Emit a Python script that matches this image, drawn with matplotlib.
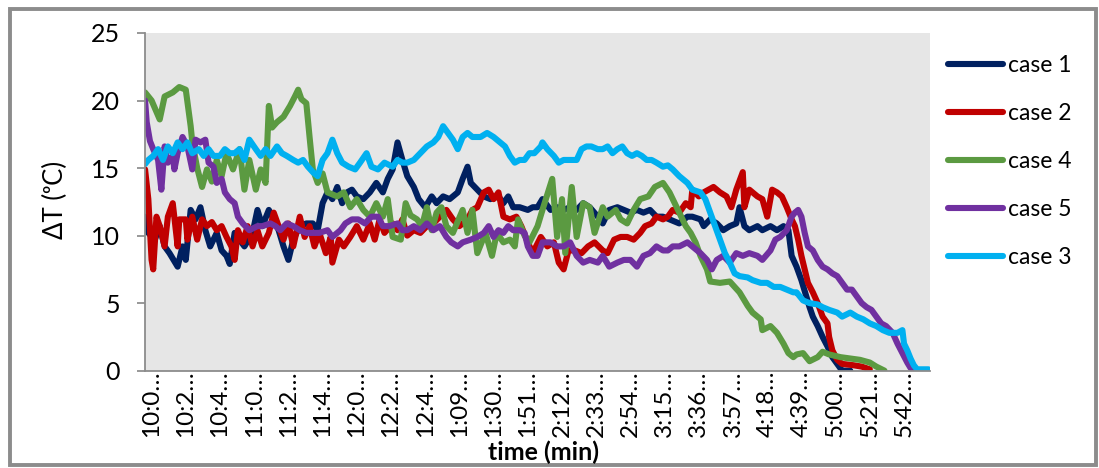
import numpy as np
import matplotlib
matplotlib.use("Agg")
import matplotlib.pyplot as plt
from matplotlib.patches import Rectangle

plt.rcParams['font.family'] = ['Lato', 'DejaVu Sans']

# minute index along the run, and temperature difference readings
case1_t = [0, 2, 6, 9, 12, 15, 20, 23, 25, 28,
           31, 34, 37, 40, 44, 47, 50, 52, 55, 58,
           61, 66, 69, 72, 76, 79, 82, 85, 88, 91,
           95, 99, 103, 106, 109, 112, 115, 118, 121, 124,
           127, 130, 134, 138, 142, 146, 149, 152, 155, 158,
           161, 165, 168, 172, 176, 179, 183, 187, 192, 195,
           198, 200, 204, 208, 212, 217, 220, 223, 226, 230,
           235, 238, 241, 244, 249, 253, 257, 261, 265, 269,
           273, 278, 281, 285, 290, 294, 298, 302, 306, 310,
           314, 318, 322, 328, 333, 336, 341, 343, 347, 351,
           355, 359, 363, 365, 368, 371, 376, 379, 384, 388,
           392, 395, 397, 400, 403, 406, 408, 410, 413, 416,
           419, 422, 425, 428, 433]
case1_v = [11.4, 10.2, 9.7, 10.7, 9.2, 8.7, 7.7, 9.2, 8.2, 11.9,
           11.2, 12.1, 10.4, 9.2, 10.2, 8.9, 8.5, 7.9, 10.2, 9.7,
           9.2, 10.2, 11.9, 10.7, 11.9, 11.2, 10.4, 9.2, 8.2, 9.7,
           10.7, 10.9, 10.9, 10.4, 12.4, 13.2, 12.7, 13.6, 12.4, 13.2,
           13.4, 12.9, 12.7, 13.2, 13.9, 13.2, 14.2, 14.9, 16.9, 15.6,
           14.4, 13.6, 12.7, 12.1, 12.9, 12.4, 12.9, 12.7, 13.2, 14.2,
           15.1, 13.9, 13.4, 12.9, 12.7, 12.9, 12.4, 12.9, 12.1, 12.1,
           11.9, 12.1, 12.1, 12.7, 11.9, 12.1, 11.9, 12.1, 11.9, 12.4,
           12.1, 11.4, 10.9, 11.9, 12.1, 11.9, 11.7, 11.9, 11.7, 11.9,
           11.4, 11.4, 11.2, 10.9, 11.4, 11.4, 11.2, 10.7, 11.2, 10.9,
           10.4, 10.7, 10.9, 12.1, 10.7, 10.4, 10.7, 10.4, 10.7, 10.4,
           10.7, 10.4, 8.5, 7.7, 6.7, 5.5, 4.7, 4.0, 3.3, 2.5,
           1.8, 1.0, 0.5, 0.0, 0.0]

case2_t = [0, 2, 4, 5, 7, 9, 12, 14, 17, 20,
           21, 25, 26, 29, 32, 35, 38, 41, 44, 47,
           50, 53, 55, 57, 60, 63, 66, 69, 72, 76,
           79, 82, 85, 88, 91, 95, 98, 101, 104, 107,
           111, 114, 115, 119, 122, 126, 130, 134, 138, 141,
           144, 147, 152, 155, 158, 161, 165, 169, 173, 177,
           181, 185, 189, 193, 198, 201, 204, 208, 211, 214,
           217, 220, 224, 228, 231, 235, 238, 243, 247, 251,
           254, 257, 260, 264, 268, 272, 276, 281, 284, 288,
           292, 296, 300, 304, 307, 311, 314, 318, 321, 324,
           328, 332, 335, 336, 340, 343, 346, 349, 353, 357,
           360, 363, 367, 368, 371, 376, 379, 382, 385, 388,
           391, 394, 397, 399, 401, 403, 405, 407, 410, 413,
           416, 419, 420, 422, 425, 428, 435, 440, 445]
case2_v = [14.9, 12.7, 8.2, 7.5, 11.4, 10.7, 9.2, 11.4, 12.4, 9.2,
           11.2, 11.2, 9.7, 11.4, 9.7, 11.2, 10.7, 11.0, 10.4, 10.7,
           9.9, 9.2, 8.2, 10.4, 9.5, 10.7, 9.2, 10.4, 9.2, 10.2,
           11.7, 10.7, 9.7, 10.9, 9.2, 11.4, 9.9, 10.7, 9.2, 10.2,
           8.7, 9.9, 8.0, 9.7, 9.2, 9.9, 10.7, 9.7, 10.9, 9.7,
           11.2, 10.2, 10.9, 10.4, 11.2, 10.0, 10.4, 10.2, 10.7, 10.9,
           11.4, 11.9, 11.2, 10.7, 11.2, 11.9, 12.1, 13.2, 13.4, 12.7,
           13.2, 11.4, 11.2, 11.4, 10.7, 9.5, 8.7, 9.9, 9.2, 9.5,
           8.0, 7.5, 8.9, 8.9, 8.7, 9.2, 9.5, 8.9, 8.7, 9.7,
           9.9, 9.9, 9.7, 10.2, 10.7, 10.9, 11.4, 11.2, 11.4, 11.9,
           11.7, 12.4, 12.1, 13.4, 12.9, 13.2, 13.4, 13.6, 13.2, 12.9,
           12.1, 13.4, 14.7, 12.1, 13.4, 12.9, 12.7, 11.4, 13.4, 13.2,
           12.9, 12.1, 11.2, 10.7, 9.7, 8.5, 7.5, 6.5, 5.8, 5.0,
           4.0, 3.5, 2.5, 1.5, 0.8, 0.5, 0.4, 0.3, 0.1]

case4_t = [0, 4, 9, 12, 17, 21, 25, 28, 29, 32,
           35, 38, 41, 44, 47, 50, 54, 58, 61, 64,
           68, 71, 74, 76, 78, 81, 85, 89, 92, 94,
           96, 99, 101, 103, 106, 109, 112, 118, 122, 126,
           130, 134, 138, 142, 146, 149, 152, 157, 160, 163,
           167, 170, 173, 176, 179, 182, 185, 189, 195, 198,
           201, 204, 209, 213, 216, 220, 224, 227, 229, 233,
           236, 241, 244, 250, 253, 256, 258, 262, 265, 269,
           273, 276, 281, 284, 289, 292, 296, 300, 304, 309,
           313, 318, 322, 328, 332, 335, 338, 341, 345, 347,
           353, 359, 365, 370, 373, 378, 379, 384, 388, 392,
           395, 398, 400, 404, 408, 413, 416, 420, 427, 433,
           439, 445, 449, 454]
case4_v = [20.6, 20.0, 18.6, 20.3, 20.6, 21.0, 20.8, 18.1, 16.9, 15.0,
           13.6, 14.9, 14.0, 15.6, 14.4, 16.1, 14.9, 16.4, 13.4, 15.6,
           13.4, 14.9, 13.9, 19.6, 18.0, 18.4, 18.8, 19.6, 20.3, 20.8,
           20.1, 19.8, 17.3, 14.9, 13.9, 14.6, 13.2, 12.9, 13.2, 12.1,
           12.7, 11.9, 11.4, 12.4, 11.4, 12.7, 9.9, 9.7, 12.4, 11.5,
           11.2, 10.7, 12.1, 10.4, 11.7, 12.1, 10.7, 10.2, 11.9, 10.2,
           11.9, 8.7, 10.2, 8.5, 10.2, 9.5, 9.7, 9.2, 11.2, 10.0,
           9.5, 10.7, 11.9, 14.2, 9.9, 12.7, 8.7, 13.6, 9.9, 12.4,
           12.1, 10.2, 12.1, 11.4, 11.9, 11.2, 10.9, 11.9, 12.7, 12.9,
           13.6, 13.9, 13.2, 11.7, 10.7, 10.2, 9.5, 8.5, 7.5, 6.6,
           6.5, 6.6, 5.8, 4.8, 4.3, 3.8, 3.0, 3.3, 2.8, 2.0,
           1.3, 1.0, 1.2, 1.3, 0.7, 1.0, 1.4, 1.2, 1.0, 0.9,
           0.8, 0.6, 0.3, 0.0]

case5_t = [0, 1, 3, 5, 8, 10, 12, 14, 17, 18,
           20, 23, 26, 29, 31, 34, 37, 39, 42, 44,
           47, 49, 52, 55, 57, 60, 64, 69, 72, 77,
           80, 83, 87, 91, 95, 99, 103, 107, 112, 115,
           120, 123, 127, 131, 135, 139, 143, 146, 150, 155,
           158, 161, 165, 169, 173, 177, 181, 185, 188, 192,
           195, 200, 204, 208, 211, 214, 217, 220, 223, 226,
           230, 233, 235, 238, 241, 244, 249, 253, 257, 261,
           265, 269, 273, 278, 281, 285, 290, 294, 298, 302,
           306, 310, 314, 318, 321, 324, 328, 333, 336, 341,
           345, 348, 351, 355, 359, 363, 367, 371, 376, 379,
           384, 387, 390, 394, 397, 399, 401, 403, 405, 407,
           410, 413, 416, 419, 422, 425, 428, 431, 434, 437,
           440, 443, 446, 449, 452, 455, 459, 462, 465, 468,
           470, 476]
case5_v = [20.0, 18.4, 17.0, 16.4, 15.6, 13.4, 16.6, 15.4, 15.9, 14.9,
           16.1, 17.3, 16.6, 14.9, 17.1, 16.9, 17.1, 15.4, 15.1, 13.9,
           14.2, 13.2, 12.7, 12.4, 11.4, 10.9, 10.4, 10.7, 10.7, 10.9,
           10.7, 10.4, 10.9, 10.7, 10.4, 10.2, 10.2, 10.2, 10.4, 9.9,
           10.4, 10.9, 11.2, 11.2, 10.9, 11.4, 11.4, 10.7, 10.7, 10.9,
           10.4, 10.4, 10.7, 10.4, 10.9, 10.4, 10.7, 9.9, 9.5, 9.2,
           9.5, 9.7, 9.9, 10.2, 10.7, 9.9, 10.4, 10.2, 10.7, 10.4,
           10.4, 10.2, 9.2, 8.5, 8.5, 9.5, 9.5, 9.2, 9.2, 9.5,
           8.5, 8.0, 8.2, 8.0, 8.5, 7.7, 8.0, 8.2, 8.2, 7.7,
           8.5, 8.7, 9.2, 8.9, 8.9, 9.2, 9.2, 9.5, 9.2, 8.7,
           8.2, 7.5, 8.2, 8.5, 8.0, 8.7, 8.5, 8.7, 8.5, 8.2,
           8.9, 9.7, 9.9, 10.4, 11.4, 11.7, 11.9, 11.4, 10.2, 9.2,
           8.9, 8.2, 7.7, 7.5, 7.2, 7.0, 6.5, 6.0, 6.0, 5.5,
           5.0, 4.7, 4.5, 4.0, 3.5, 3.3, 2.8, 2.0, 1.3, 0.6,
           0.2, 0.0]

case3_t = [0, 2, 5, 8, 11, 14, 17, 20, 23, 26,
           29, 33, 36, 39, 42, 46, 49, 52, 55, 58,
           61, 64, 68, 71, 74, 77, 81, 84, 87, 91,
           94, 97, 100, 103, 106, 109, 112, 115, 118, 121,
           125, 129, 132, 136, 139, 143, 147, 152, 155, 158,
           161, 165, 169, 173, 177, 180, 183, 186, 189, 192,
           195, 198, 201, 206, 210, 214, 218, 221, 224, 227,
           230, 233, 236, 239, 243, 244, 247, 251, 254, 257,
           261, 265, 268, 271, 274, 278, 281, 284, 287, 290,
           293, 296, 299, 302, 305, 308, 311, 314, 318, 321,
           324, 328, 333, 336, 341, 344, 347, 350, 353, 356,
           359, 362, 365, 370, 373, 378, 382, 386, 390, 394,
           398, 400, 404, 408, 413, 416, 420, 425, 428, 433,
           437, 441, 445, 449, 453, 457, 462, 465, 466, 468,
           470, 472, 474, 481]
case3_v = [15.3, 15.6, 15.9, 16.4, 15.6, 16.6, 16.1, 16.9, 16.4, 16.9,
           16.1, 16.4, 15.9, 16.4, 15.9, 15.9, 16.4, 16.1, 16.1, 16.4,
           15.6, 17.1, 16.4, 15.9, 16.4, 15.9, 16.6, 16.1, 15.9, 15.6,
           15.4, 15.6, 15.1, 14.7, 14.4, 15.6, 16.1, 17.1, 16.1, 15.4,
           15.1, 14.9, 15.4, 16.1, 15.1, 14.9, 15.4, 15.1, 15.6, 15.4,
           15.4, 15.6, 16.1, 16.6, 16.9, 17.3, 18.1, 17.6, 17.1, 16.4,
           17.3, 17.6, 17.3, 17.3, 17.6, 17.3, 16.9, 16.6, 15.9, 15.4,
           15.6, 15.6, 16.1, 16.1, 16.6, 16.9, 16.4, 15.9, 15.4, 15.6,
           15.6, 15.6, 16.4, 16.6, 16.6, 16.4, 16.4, 16.6, 16.1, 16.4,
           16.6, 16.1, 15.9, 16.1, 15.9, 15.6, 15.6, 15.4, 15.1, 15.2,
           14.9, 14.4, 13.9, 13.4, 13.2, 12.7, 11.7, 10.7, 9.7, 8.7,
           8.0, 7.2, 7.0, 6.9, 6.7, 6.5, 6.5, 6.2, 6.2, 6.0,
           5.8, 5.8, 5.2, 5.0, 4.9, 4.7, 4.5, 4.3, 4.0, 4.3,
           4.0, 3.8, 3.5, 3.3, 3.0, 2.8, 2.8, 3.0, 2.0, 1.5,
           0.9, 0.4, 0.1, 0.1]

tick_pos = [4 + 21 * k for k in range(23)]
tick_labels = ['10:0…', '10:2…', '10:4…', '11:0…', '11:2…', '11:4…',
               '12:0…', '12:2…', '12:4…', '1:09…', '1:30…', '1:51…',
               '2:12…', '2:33…', '2:54…', '3:15…', '3:36…', '3:57…',
               '4:18…', '4:39…', '5:00…', '5:21…', '5:42…']

series = [
    ('case 1', case1_t, case1_v, '#002060'),
    ('case 2', case2_t, case2_v, '#C00000'),
    ('case 4', case4_t, case4_v, '#5B9A41'),
    ('case 5', case5_t, case5_v, '#7030A0'),
    ('case 3', case3_t, case3_v, '#00B0F0'),
]

fig = plt.figure(figsize=(10.99, 4.68), dpi=100)
fig.patches.append(Rectangle((10 / 1099, 3 / 468), 1086 / 1099, 456 / 468,
                             transform=fig.transFigure, fill=False,
                             edgecolor='#8c8c8c', linewidth=2.8))

ax = fig.add_axes([0.132, 0.208, 0.7143, 0.7215])
ax.set_facecolor('#e6e6e6')

for name, t, v, col in series:
    ax.plot(t, v, color=col, lw=4.4, label=name,
            solid_joinstyle='round', solid_capstyle='round')

ax.set_xlim(0, 482)
ax.set_ylim(0, 25)
ax.set_yticks([0, 5, 10, 15, 20, 25])
ax.set_xticks(tick_pos)
ax.set_xticklabels(tick_labels, rotation=90, fontsize=17.5)
ax.tick_params(axis='x', length=0, pad=0)
ax.tick_params(axis='y', length=6, width=1.2, color='#868686', pad=12,
               labelsize=18)

for s in ['top', 'right']:
    ax.spines[s].set_visible(False)
for s in ['left', 'bottom']:
    ax.spines[s].set_color('#8c8c8c')
    ax.spines[s].set_linewidth(1.3)

fig.text(55 / 1099, 1 - 200 / 468, 'ΔT (ᵒC)', rotation=90,
         ha='center', va='center', fontsize=18.5)
fig.text(543 / 1099, 1 - 452 / 468, 'time (min)', ha='center', va='center',
         fontsize=18, fontweight='bold')

leg = ax.legend(loc='upper left', bbox_to_anchor=(948 / 1099, 1 - 55 / 468),
                bbox_transform=fig.transFigure, frameon=False, fontsize=16.5,
                handlelength=2.4, handletextpad=0.22, labelspacing=1.18,
                borderpad=0, borderaxespad=0)

fig.savefig('out.png', dpi=100)
